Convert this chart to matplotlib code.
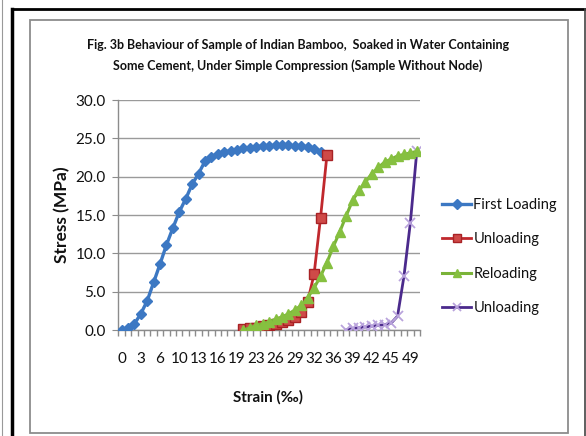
import numpy as np
import matplotlib
matplotlib.use("Agg")
import matplotlib.pyplot as plt
from matplotlib.patches import Rectangle

plt.rcParams['font.family'] = ['Lato', 'DejaVu Sans']

# Category axis: 47 strain readings, every third one labelled
n_categories = 47
tick_labels = ["0", "3", "6", "10", "13", "16", "19", "23", "26", "29",
               "32", "36", "39", "42", "45", "49"]

# Stress (MPa) per category; each series starts at its own category
first_loading_start = 0
first_loading = [0.0, 0.3, 0.8, 2.1, 3.8, 6.2, 8.6, 11.1, 13.3, 15.4, 17.1,
                 19.0, 20.4, 22.0, 22.6, 23.0, 23.2, 23.4, 23.5, 23.7, 23.8,
                 23.9, 24.0, 24.0, 24.1, 24.1, 24.1, 24.0, 24.0, 23.9, 23.6,
                 23.2]

unloading1_start = 19
unloading1 = [0.1, 0.2, 0.3, 0.5, 0.6, 0.8, 1.0, 1.3, 1.7, 2.3, 3.7, 7.3,
              14.6, 22.8]

reloading_start = 19
reloading = [0.0, 0.3, 0.6, 0.8, 1.1, 1.4, 1.7, 2.1, 2.6, 3.2, 4.2, 5.5, 7.0,
             8.8, 10.9, 12.8, 14.9, 16.9, 18.2, 19.3, 20.4, 21.2, 21.9, 22.3,
             22.7, 22.9, 23.1, 23.3]

unloading2_start = 35
unloading2 = [0.0, 0.2, 0.3, 0.4, 0.5, 0.6, 0.7, 0.9, 1.8, 7.0, 14.0, 23.3]

W, H = 586, 436
fig = plt.figure(figsize=(W / 100, H / 100), dpi=100)


def fig_rect(x0, y0, x1, y1, **kw):
    fig.patches.append(Rectangle((x0 / W, 1 - y1 / H), (x1 - x0) / W,
                                 (y1 - y0) / H, transform=fig.transFigure,
                                 fill=False, **kw))


# Frame lines around the chart
fig.add_artist(plt.Line2D([12 / W, 12 / W], [0, 1 - 9 / H], color='black', lw=2.5))
fig.add_artist(plt.Line2D([12 / W, 585 / W], [1 - 9 / H, 1 - 9 / H], color='black', lw=2.0))
fig.add_artist(plt.Line2D([585 / W, 585 / W], [0, 1 - 9 / H], color='#444444', lw=1.2))
fig.add_artist(plt.Line2D([1.5 / W, 1.5 / W], [0, 1], color='#999999', lw=0.8))
fig_rect(30, 20, 568, 433, edgecolor='#8c8c8c', lw=1.3)

ax = fig.add_axes([118.3 / W, 1 - 330 / H, (420 - 118.3) / W, 230 / H])


def xs(start, vals):
    return np.arange(start, start + len(vals))


ax.plot(xs(first_loading_start, first_loading), first_loading, color='#3c78c3',
        lw=2.4, marker='D', ms=5.5, mec='#3c78c3', mfc='#3c78c3',
        label='First Loading', zorder=3)
ax.plot(xs(unloading1_start, unloading1), unloading1, color='#c0282d',
        lw=2.0, marker='s', ms=6.5, mec='#a82225', mfc='#cf4a48',
        label='Unloading', zorder=3)
ax.plot(xs(reloading_start, reloading), reloading, color='#7ab338',
        lw=2.2, marker='^', ms=7, mec='#86c040', mfc='#86c040',
        label='Reloading', zorder=4)
ax.plot(xs(unloading2_start, unloading2), unloading2, color='#4b2a8c',
        lw=2.0, marker='x', ms=7.5, mec='#b9a3dc', mew=1.3,
        label='Unloading', zorder=3)

ax.set_xlim(-0.5, n_categories - 0.5)
ax.set_ylim(0, 30)

ax.set_xticks(np.arange(0, n_categories, 3))
ax.set_xticklabels(tick_labels)
ax.set_xticks(np.arange(-0.5, n_categories, 1), minor=True)
ax.tick_params(axis='x', which='major', length=0, pad=16, labelsize=11,
               colors='#111111')
ax.tick_params(axis='x', which='minor', length=4, color='#8c8c8c', width=1)

ax.set_yticks(np.arange(0, 31, 5))
ax.set_yticklabels([f"{v:.1f}" for v in np.arange(0, 31, 5)])
ax.tick_params(axis='y', length=4, color='#8c8c8c', labelsize=11,
               colors='#111111', pad=5)

ax.grid(axis='y', color='#9a9a9a', lw=1.0)
ax.set_axisbelow(True)
for s in ['top', 'right']:
    ax.spines[s].set_visible(False)
for s in ['left', 'bottom']:
    ax.spines[s].set_color('#8c8c8c')
    ax.spines[s].set_linewidth(1.0)

fig.text(298 / W, 1 - 45 / H,
         "Fig. 3b Behaviour of Sample of Indian Bamboo,  Soaked in Water Containing",
         ha='center', va='center', fontsize=9, fontweight='bold', color='#111111')
fig.text(298 / W, 1 - 66 / H,
         "Some Cement, Under Simple Compression (Sample Without Node)",
         ha='center', va='center', fontsize=9, fontweight='bold', color='#111111')

fig.text(62 / W, 1 - 215 / H, "Stress (MPa)", rotation=90, ha='center',
         va='center', fontsize=12.5, fontweight='bold', color='#111111')
fig.text(268 / W, 1 - 397 / H, "Strain (‰)", ha='center', va='center',
         fontsize=11, fontweight='bold', color='#111111')

leg = ax.legend(loc='center left', bbox_to_anchor=(429 / W, 1 - 256.5 / H),
                bbox_transform=fig.transFigure, frameon=False, fontsize=10.5,
                handlelength=2.0, handletextpad=0.15, labelspacing=1.4,
                markerscale=0.85)
for t in leg.get_texts():
    t.set_color('#111111')

fig.savefig("out.png", dpi=100)
